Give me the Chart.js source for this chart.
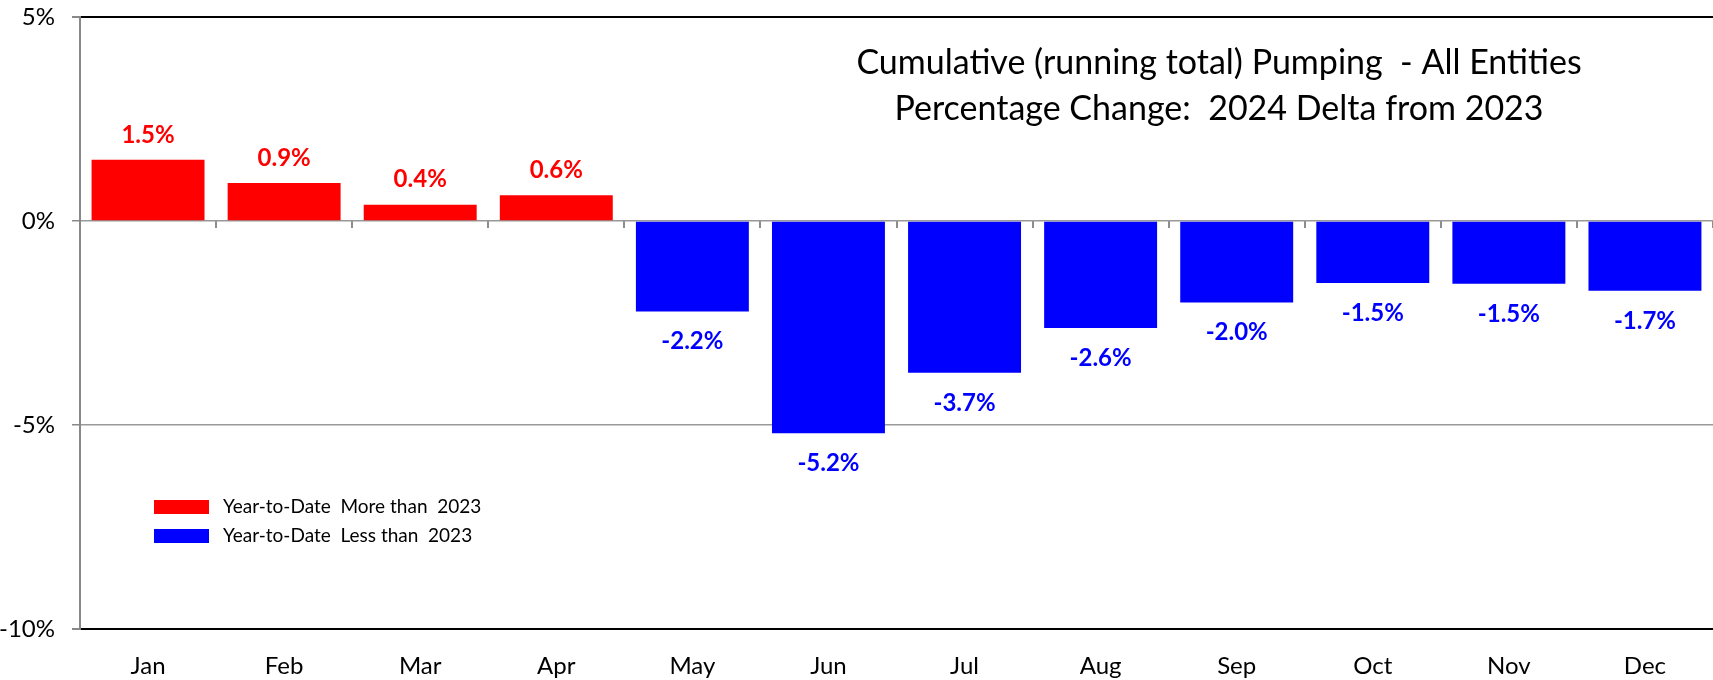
<!DOCTYPE html>
<html lang="en">
<head>
    <meta charset="UTF-8">
    <title>Cumulative Pumping - Percentage Change</title>
    <script src="https://cdn.jsdelivr.net/npm/chart.js"></script>
    <style>
        body { margin: 0; background: #fff; }
    </style>
</head>
<body>
    <canvas id="myChart" width="1713" height="680"></canvas>

<script>
    const months = ['Jan', 'Feb', 'Mar', 'Apr', 'May', 'Jun', 'Jul', 'Aug', 'Sep', 'Oct', 'Nov', 'Dec']
    const pctChange = [1.5, 0.93, 0.4, 0.63, -2.22, -5.2, -3.72, -2.62, -2.0, -1.52, -1.54, -1.71]
    const yTicks = [5, 0, -5, -10]
    const titleLines = ['Cumulative (running total) Pumping  - All Entities', 'Percentage Change:  2024 Delta from 2023']
    const legendLabels = ['Year-to-Date  More than  2023', 'Year-to-Date  Less than  2023']
    const upColor = '#ff0000'
    const downColor = '#0000ff'

    const FONT = 'Lato, "Open Sans", sans-serif'

    // value labels over/under each bar
    const barLabels = {
        id: 'barLabels',
        afterDatasetsDraw(chart) {
            const ctx = chart.ctx
            const meta = chart.getDatasetMeta(0)
            ctx.save()
            ctx.font = 'bold 24px ' + FONT
            ctx.textAlign = 'center'
            ctx.textBaseline = 'middle'
            meta.data.forEach((bar, i) => {
                const v = pctChange[i]
                ctx.fillStyle = v >= 0 ? upColor : downColor
                const y = v >= 0 ? bar.y - 25 : bar.y + 30
                ctx.fillText(v.toFixed(1) + '%', bar.x, y)
            })
            ctx.restore()
        }
    }

    // title + legend drawn inside the plot area
    const insideText = {
        id: 'insideText',
        afterDraw(chart) {
            const ctx = chart.ctx
            const area = chart.chartArea
            ctx.save()
            ctx.fillStyle = '#000'
            ctx.textAlign = 'center'
            ctx.textBaseline = 'middle'
            ctx.font = '34px ' + FONT
            ctx.fillText(titleLines[0], area.left + 1139, area.top + 46)
            ctx.fillText(titleLines[1], area.left + 1139, area.top + 92)

            ctx.textAlign = 'left'
            ctx.font = '19px ' + FONT
            const colors = [upColor, downColor]
            legendLabels.forEach((txt, i) => {
                const y = area.top + 490 + i * 29
                ctx.fillStyle = colors[i]
                ctx.fillRect(area.left + 74, y - 7, 55, 14)
                ctx.fillStyle = '#000'
                ctx.fillText(txt, area.left + 143, y)
            })
            ctx.restore()
        }
    }

    const data = {
        labels: months,
        datasets: [{
            label: 'Percentage change',
            data: pctChange,
            backgroundColor: pctChange.map(v => v >= 0 ? upColor : downColor),
            borderWidth: 0,
            categoryPercentage: 0.83,
            barPercentage: 1.0
        }]
    }

    const config = {
        type: 'bar',
        data: data,
        options: {
            responsive: false,
            animation: false,
            devicePixelRatio: 1,
            layout: {
                padding: { top: 17, right: 0, left: 0, bottom: 0 }
            },
            plugins: {
                legend: { display: false },
                title: { display: false },
                tooltip: { enabled: false }
            },
            scales: {
                x: {
                    position: 'bottom',
                    grid: { display: false },
                    border: { display: true, color: '#000', width: 2 },
                    ticks: {
                        color: '#000',
                        font: { family: FONT, size: 24 },
                        padding: 15
                    },
                    afterFit: scale => { scale.height = 51 }
                },
                x2: {
                    type: 'category',
                    labels: months,
                    position: { y: 0 },
                    grid: {
                        offset: true,
                        drawOnChartArea: false,
                        drawTicks: true,
                        tickLength: 7,
                        color: '#8c8c8c',
                        lineWidth: 2
                    },
                    border: { display: false },
                    ticks: { display: false }
                },
                y: {
                    min: -10,
                    max: 5,
                    afterBuildTicks: scale => { scale.ticks = yTicks.map(v => ({ value: v })) },
                    grid: {
                        color: c => (c.tick && (c.tick.value === 5 || c.tick.value === -10)) ? '#000' : '#999',
                        lineWidth: c => (c.tick && (c.tick.value === 5 || c.tick.value === -10)) ? 2 : 1.5,
                        tickColor: '#888',
                        tickLength: 8
                    },
                    border: { display: true, color: '#888', width: 2 },
                    ticks: {
                        color: '#000',
                        font: { family: FONT, size: 24 },
                        padding: 17,
                        callback: v => v + '%'
                    },
                    afterFit: scale => {
                        scale.width = 80
                        scale.paddingTop = 0
                        scale.paddingBottom = 0
                    }
                }
            }
        },
        plugins: [barLabels, insideText]
    }

    window.pumpChart = new Chart(document.getElementById('myChart'), config)
</script>
</body>
</html>
